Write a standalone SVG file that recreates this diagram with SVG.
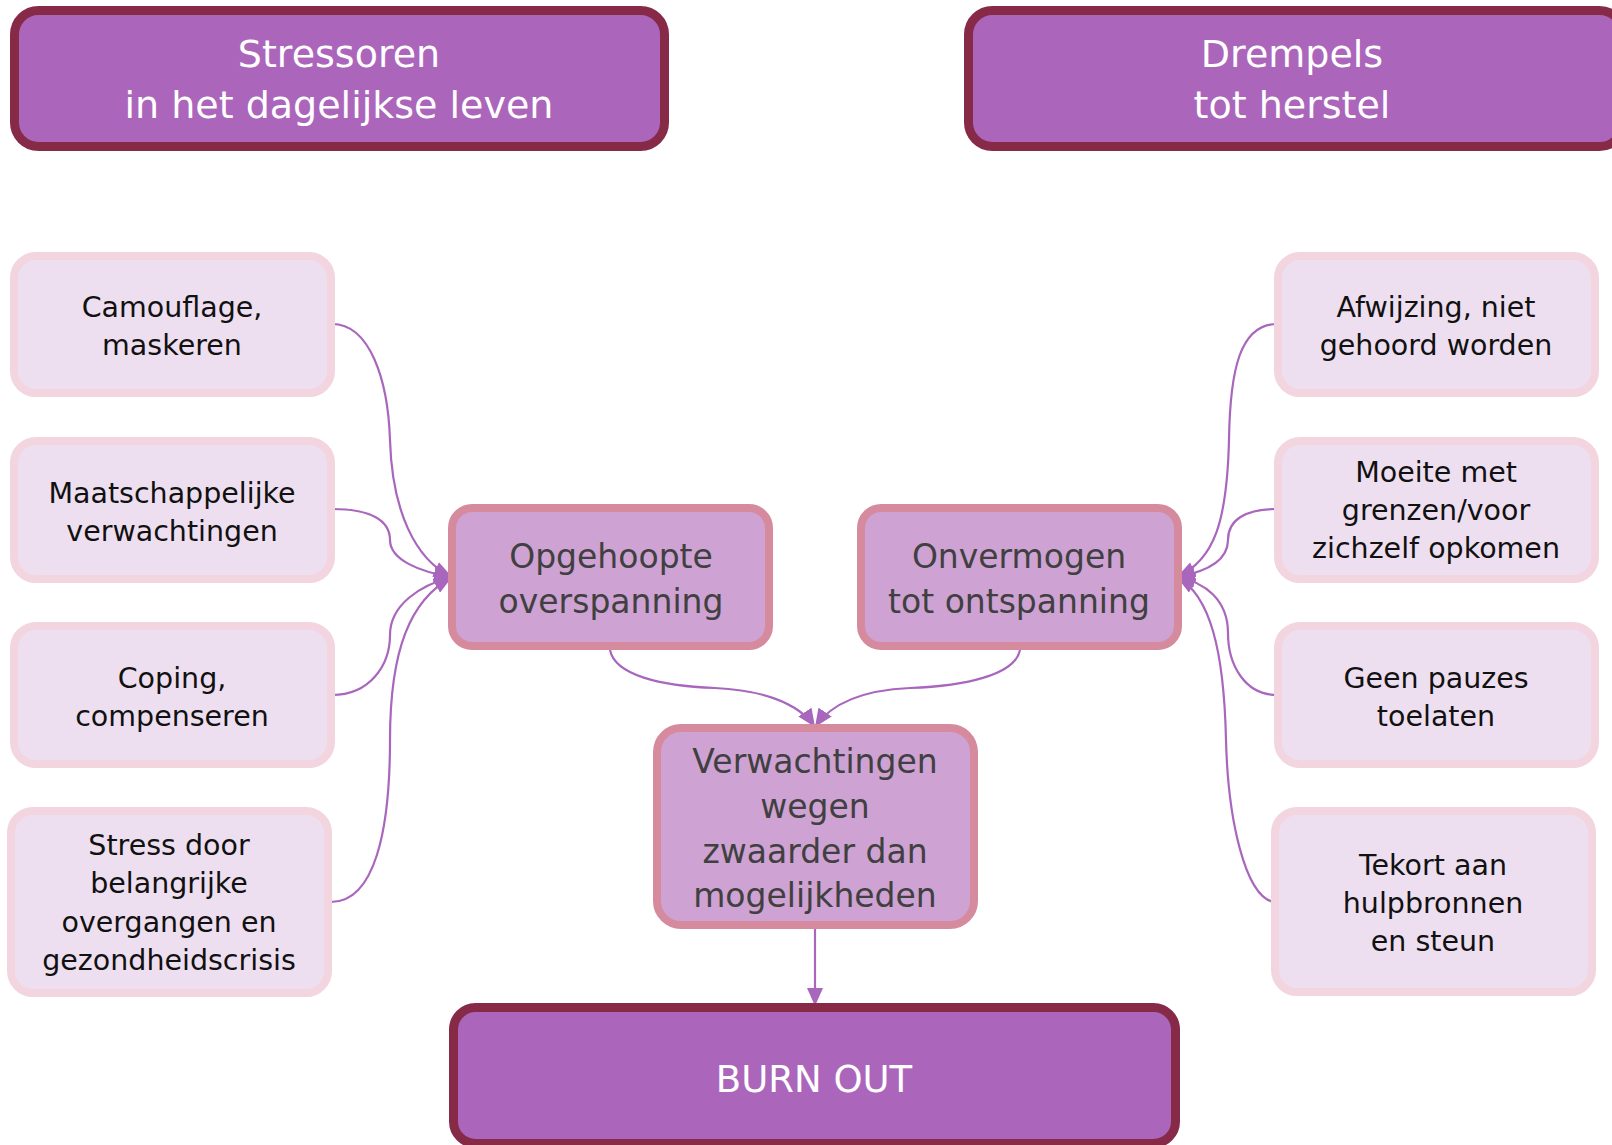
<svg xmlns="http://www.w3.org/2000/svg" width="1612" height="1145" viewBox="0 0 1612 1145">
<style>
text{font-family:"DejaVu Sans","Liberation Sans",sans-serif;text-anchor:middle}
.hdr rect{fill:#AB66BC;stroke:#862A48;stroke-width:9}
.hdr text{fill:#FFFFFF;font-size:38px}
.sm rect{fill:#EEDFF0;stroke:#F2D5DF;stroke-width:8}
.sm text{fill:#111111;font-size:28.5px}
.mid rect{fill:#CEA2D3;stroke:#D68A9E;stroke-width:8}
.mid text{fill:#404040;font-size:33px}
.con path{fill:none;stroke:#A966BD;stroke-width:2.2;marker-end:url(#ah)}
</style>
<defs>
<marker id="ah" viewBox="0 0 10 10" refX="10" refY="5" markerWidth="18" markerHeight="16" markerUnits="userSpaceOnUse" orient="auto" preserveAspectRatio="none">
<path d="M0,0 L10,5 L0,10 z" fill="#A966BD"/>
</marker>
</defs>
<rect width="1612" height="1145" fill="#FFFFFF"/>

<g id="connectors" class="con">
<path d="M332,324 C370,324 388,380 390,440 C392,510 415,560 452,577"/>
<path d="M332,509 C370,509 390,520 390,540 C390,560 420,572 452,577"/>
<path d="M332,695 C370,695 390,665 390,635 C390,605 420,585 452,577"/>
<path d="M331,902 C375,902 390,830 390,740 C390,650 410,600 452,577"/>
<path d="M1277,324 C1240,324 1230,370 1229,440 C1227,520 1215,560 1177,577"/>
<path d="M1277,509 C1245,509 1228,520 1228,540 C1228,562 1205,572 1177,577"/>
<path d="M1277,695 C1245,695 1228,665 1228,633 C1228,600 1205,582 1177,577"/>
<path d="M1273,902 C1245,895 1228,820 1226,740 C1224,650 1210,595 1177,577"/>
<path d="M610,650 C615,675 660,686 715,688 C760,690 798,702 815,727"/>
<path d="M1020,650 C1015,675 965,686 910,688 C865,690 832,702 815,727"/>
<path d="M815,928 L815,1006"/>
</g>

<g id="hdr-stressoren" class="hdr">
<rect x="14.5" y="10.5" width="650" height="136" rx="24"/>
<text x="339" y="67">Stressoren</text>
<text x="339" y="118">in het dagelijkse leven</text>
</g>
<g id="hdr-drempels" class="hdr">
<rect x="968.5" y="10.5" width="655" height="136" rx="24"/>
<text x="1292" y="67">Drempels</text>
<text x="1292" y="118">tot herstel</text>
</g>

<g id="n-camouflage" class="sm">
<rect x="14" y="256" width="317" height="137" rx="22"/>
<text x="172" y="317">Camouflage,</text>
<text x="172" y="355">maskeren</text>
</g>
<g id="n-maatschappelijke" class="sm">
<rect x="14" y="441" width="317" height="138" rx="22"/>
<text x="172" y="503">Maatschappelijke</text>
<text x="172" y="541">verwachtingen</text>
</g>
<g id="n-coping" class="sm">
<rect x="14" y="626" width="317" height="138" rx="22"/>
<text x="172" y="688">Coping,</text>
<text x="172" y="726">compenseren</text>
</g>
<g id="n-stress" class="sm">
<rect x="11" y="811" width="317" height="182" rx="22"/>
<text x="169" y="855">Stress door</text>
<text x="169" y="893">belangrijke</text>
<text x="169" y="932">overgangen en</text>
<text x="169" y="970">gezondheidscrisis</text>
</g>

<g id="n-afwijzing" class="sm">
<rect x="1278" y="256" width="317" height="137" rx="22"/>
<text x="1436" y="317">Afwijzing, niet</text>
<text x="1436" y="355">gehoord worden</text>
</g>
<g id="n-moeite" class="sm">
<rect x="1278" y="441" width="317" height="138" rx="22"/>
<text x="1436" y="482">Moeite met</text>
<text x="1436" y="520">grenzen/voor</text>
<text x="1436" y="558">zichzelf opkomen</text>
</g>
<g id="n-pauzes" class="sm">
<rect x="1278" y="626" width="317" height="138" rx="22"/>
<text x="1436" y="688">Geen pauzes</text>
<text x="1436" y="726">toelaten</text>
</g>
<g id="n-tekort" class="sm">
<rect x="1275" y="811" width="317" height="181" rx="22"/>
<text x="1433" y="875">Tekort aan</text>
<text x="1433" y="913">hulpbronnen</text>
<text x="1433" y="951">en steun</text>
</g>

<g id="n-opgehoopte" class="mid">
<rect x="452" y="508" width="317" height="138" rx="20"/>
<text x="611" y="568">Opgehoopte</text>
<text x="611" y="613">overspanning</text>
</g>
<g id="n-onvermogen" class="mid">
<rect x="861" y="508" width="317" height="138" rx="20"/>
<text x="1019" y="568">Onvermogen</text>
<text x="1019" y="613">tot ontspanning</text>
</g>
<g id="n-verwachtingen" class="mid">
<rect x="657" y="728" width="317" height="197" rx="24"/>
<text x="815" y="773">Verwachtingen</text>
<text x="815" y="818">wegen</text>
<text x="815" y="863">zwaarder dan</text>
<text x="815" y="907">mogelijkheden</text>
</g>

<g id="n-burnout" class="hdr">
<rect x="453.5" y="1007.5" width="722" height="136" rx="22"/>
<text x="814" y="1092" style="font-size:37px">BURN OUT</text>
</g>
</svg>
